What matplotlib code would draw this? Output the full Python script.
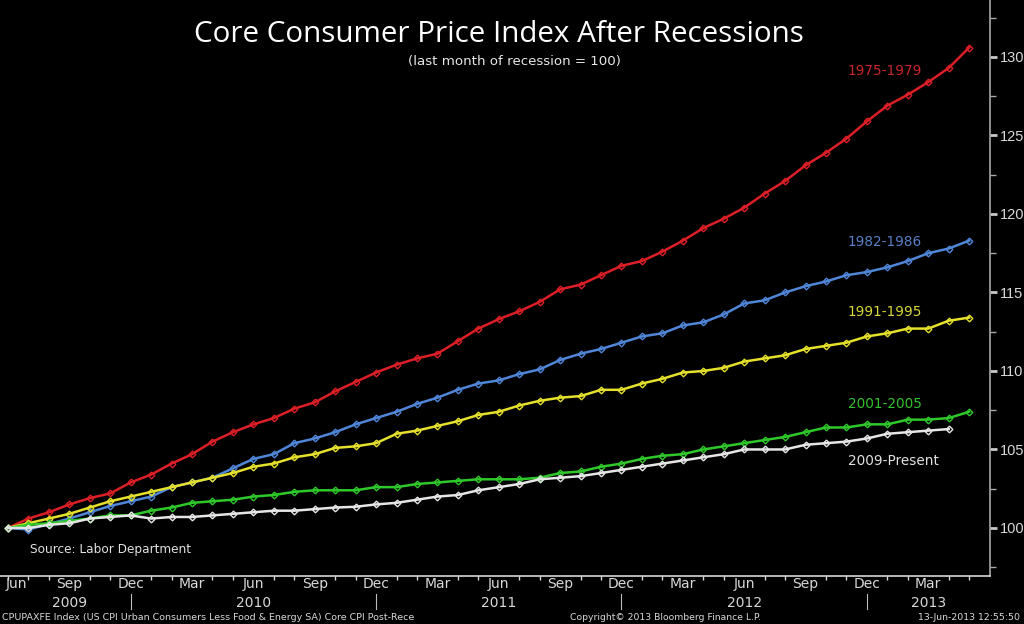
import matplotlib
matplotlib.use("Agg")
import matplotlib.pyplot as plt
import matplotlib.transforms as mtransforms

# ---------------- data ----------------
s1975 = [100.0, 100.6, 101.0, 101.5, 101.9, 102.2, 102.9, 103.4, 104.1, 104.7,
         105.5, 106.1, 106.6, 107.0, 107.6, 108.0, 108.7, 109.3, 109.9, 110.4,
         110.8, 111.1, 111.9, 112.7, 113.3, 113.8, 114.4, 115.2, 115.5, 116.1,
         116.7, 117.0, 117.6, 118.3, 119.1, 119.7, 120.4, 121.3, 122.1, 123.1,
         123.9, 124.8, 125.9, 126.9, 127.6, 128.4, 129.3, 130.6]
s1982 = [100.0, 99.9, 100.25, 100.6, 101.0, 101.4, 101.7, 102.0, 102.6, 102.9,
         103.2, 103.8, 104.4, 104.7, 105.4, 105.7, 106.1, 106.6, 107.0, 107.4,
         107.9, 108.3, 108.8, 109.2, 109.4, 109.8, 110.1, 110.7, 111.1, 111.4,
         111.8, 112.2, 112.4, 112.9, 113.1, 113.6, 114.3, 114.5, 115.0, 115.4,
         115.7, 116.1, 116.3, 116.6, 117.0, 117.5, 117.8, 118.3]
s1991 = [100.0, 100.3, 100.6, 100.9, 101.3, 101.7, 102.0, 102.3, 102.6, 102.9,
         103.2, 103.5, 103.9, 104.1, 104.5, 104.7, 105.1, 105.2, 105.4, 106.0,
         106.2, 106.5, 106.8, 107.2, 107.4, 107.8, 108.1, 108.3, 108.4, 108.8,
         108.8, 109.2, 109.5, 109.9, 110.0, 110.2, 110.6, 110.8, 111.0, 111.4,
         111.6, 111.8, 112.2, 112.4, 112.7, 112.7, 113.2, 113.4]
s2001 = [100.0, 100.2, 100.3, 100.45, 100.6, 100.8, 100.8, 101.1, 101.3, 101.6,
         101.7, 101.8, 102.0, 102.1, 102.3, 102.4, 102.4, 102.4, 102.6, 102.6,
         102.8, 102.9, 103.0, 103.1, 103.1, 103.1, 103.2, 103.5, 103.6, 103.9,
         104.1, 104.4, 104.6, 104.7, 105.0, 105.2, 105.4, 105.6, 105.8, 106.1,
         106.4, 106.4, 106.6, 106.6, 106.9, 106.9, 107.0, 107.4]
s2009 = [100.0, 100.0, 100.2, 100.3, 100.6, 100.7, 100.8, 100.6, 100.7, 100.7,
         100.8, 100.9, 101.0, 101.1, 101.1, 101.2, 101.3, 101.35, 101.5, 101.6,
         101.8, 102.0, 102.1, 102.4, 102.6, 102.8, 103.1, 103.2, 103.3, 103.5,
         103.7, 103.9, 104.1, 104.3, 104.5, 104.7, 105.0, 105.0, 105.0, 105.3,
         105.4, 105.5, 105.7, 106.0, 106.1, 106.2, 106.3]

series_names = ["1975-1979", "1982-1986", "1991-1995", "2001-2005", "2009-Present"]
series_values = [s1975, s1982, s1991, s2001, s2009]
series_colors = ["#dc1f26", "#4f86d8", "#e4e02c", "#2ec82a", "#e6e6e6"]
label_colors = ["#c8262c", "#5a7fc6", "#d8d43a", "#32c02c", "#e0e0e0"]

month_labels = ["Jun", "Sep", "Dec", "Mar", "Jun", "Sep", "Dec", "Mar",
                "Jun", "Sep", "Dec", "Mar", "Jun", "Sep", "Dec", "Mar"]
month_pos = [0, 3, 6, 9, 12, 15, 18, 21, 24, 27, 30, 33, 36, 39, 42, 45]
year_labels = ["2009", "2010", "2011", "2012", "2013"]
year_pos = [3, 12, 24, 36, 45]
year_sep_pos = [6, 18, 30, 42]
y_ticks = [100, 105, 110, 115, 120, 125, 130]

title = "Core Consumer Price Index After Recessions"
subtitle = "(last month of recession = 100)"
source = "Source: Labor Department"
footer_left = "CPUPAXFE Index (US CPI Urban Consumers Less Food & Energy SA) Core CPI Post-Rece"
footer_mid = "Copyright\u00a9 2013 Bloomberg Finance L.P."
footer_right = "13-Jun-2013 12:55:50"

# ---------------- figure ----------------
W, H = 1024, 624
fig = plt.figure(figsize=(W / 100, H / 100), dpi=100, facecolor="black")
ax = fig.add_axes([0.0, 48 / H, 990 / W, 576 / H])
ax.set_facecolor("black")

for name, vals, col in zip(series_names, series_values, series_colors):
    ax.plot(range(len(vals)), vals, color=col, lw=1.8, marker="D", ms=3.4,
            mfc="none", mec=col, mew=1.0, zorder=3)

ax.set_xlim(-0.39, 48.02)
ax.set_ylim(96.94, 133.63)

for sp in ["left", "top"]:
    ax.spines[sp].set_visible(False)
ax.spines["bottom"].set_color("#d8d8d8")
ax.spines["bottom"].set_linewidth(1.2)
ax.spines["right"].set_color("#a8a8a8")
ax.spines["right"].set_linewidth(1.2)

ax.yaxis.tick_right()
ax.set_yticks(y_ticks)
ax.set_yticklabels([str(v) for v in y_ticks], family="Liberation Sans")
ax.set_yticks([v + 2.5 for v in [95] + y_ticks], minor=True)
ax.tick_params(axis="y", which="major", direction="out", length=5, width=2,
               color="#c8c8c8", labelcolor="#d8d8d8", labelsize=10.5, pad=2)
ax.tick_params(axis="y", which="minor", direction="out", length=4, width=1,
               color="#a8a8a8")

ax.set_xticks(range(0, 48), minor=True)
ax.set_xticks([p + (0.4 if p == 0 else 0) for p in month_pos])
ax.set_xticklabels(month_labels)
ax.tick_params(axis="x", which="both", direction="out", length=3, width=1,
               color="#d8d8d8", labelcolor="#d8d8d8", labelsize=10, pad=1)
ax.tick_params(axis="x", which="major", length=0)

trans = mtransforms.blended_transform_factory(ax.transData, fig.transFigure)
for lab, p in zip(year_labels, year_pos):
    fig.text(p, 1 - 603 / H, lab, transform=trans, ha="center", va="center",
             color="#d8d8d8", fontsize=10)
for p in year_sep_pos:
    fig.add_artist(plt.Line2D([p, p], [1 - 594 / H, 1 - 609 / H], transform=trans,
                              color="#bbbbbb", lw=0.8))

# series labels
label_y = [71, 242, 312, 404, 461]
for name, col, yy in zip(series_names, label_colors, label_y):
    fig.text(848 / W, 1 - yy / H, name, color=col, fontsize=9.8,
             ha="left", va="center")

fig.canvas.draw()
renderer = fig.canvas.get_renderer()


def fit_text(x, y, s, target_w, fs0, ha="center", **kw):
    t = fig.text(x / W, 1 - y / H, s, fontsize=fs0, ha=ha, va="center", **kw)
    w = t.get_window_extent(renderer).width
    t.set_fontsize(fs0 * target_w / w)
    return t


fit_text(499, 35, title, 612, 24, color="white", family="Open Sans")
fit_text(514, 62, subtitle, 212, 9, color="#e6e6e6")
fit_text(30, 549, source, 162, 9, ha="left", color="#e0e0e0")
fit_text(2, 617, footer_left, 414, 7, ha="left", color="#d8d8d8")
fit_text(666, 617, footer_mid, 192, 7, color="#d8d8d8")
fit_text(1020, 617, footer_right, 103, 7, ha="right", color="#d8d8d8")

fig.savefig("out.png", dpi=100, facecolor="black")
